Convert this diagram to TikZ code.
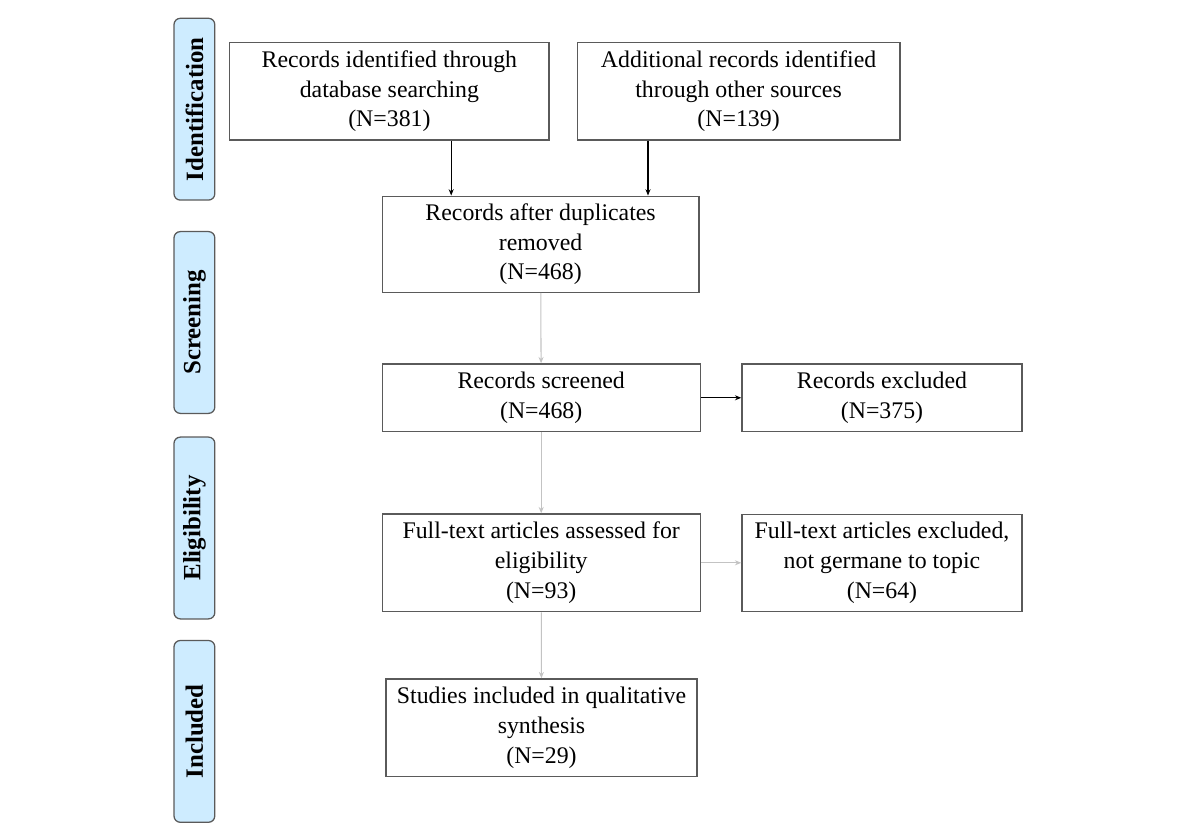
\documentclass[tikz,border=0pt]{standalone}
\usepackage{fontspec}
\setmainfont{Liberation Serif}
\usepackage{xcolor}
\usetikzlibrary{arrows.meta,positioning}
\definecolor{phasefill}{RGB}{206,236,255}
\definecolor{boxline}{RGB}{90,90,90}
\definecolor{lightline}{RGB}{195,195,195}

\begin{document}
\begin{tikzpicture}[
	box/.style={draw=boxline, line width=0.6pt, align=center, inner sep=0pt, font=\fontsize{11.3}{14.2}\selectfont},
	phase/.style={draw=boxline, line width=0.6pt, fill=phasefill, rounded corners=3pt, rotate=90, minimum width=3.03cm, minimum height=0.68cm, inner sep=0pt, font=\fontsize{11.8}{14}\selectfont\bfseries},
	arr/.style={-{Stealth[length=3pt,width=2.4pt]}, line width=0.5pt},
	darkarr/.style={arr, draw=black},
	lightarr/.style={arr, draw=lightline}]
	\useasboundingbox (0,0) rectangle (20,14);
	% phases on the left
	\node[phase] (idn) at (3.24,12.18) {Identification};
	\node[phase] (scr) at (3.24,8.625) {Screening};
	\node[phase] (elg) at (3.24,5.2) {Eligibility};
	\node[phase] (inc) at (3.24,1.81) {Included};
	% boxes
	\node[box, minimum width=5.32cm, minimum height=1.63cm] (db) at (6.49,12.48) {Records identified through\\database searching\\(N=381)};
	\node[box, minimum width=5.38cm, minimum height=1.63cm] (other) at (12.31,12.48) {Additional records identified\\through other sources\\(N=139)};
	\node[box, minimum width=5.28cm, minimum height=1.6cm] (dup) at (9.01,9.93) {Records after duplicates\\removed\\(N=468)};
	\node[box, minimum width=5.3cm, minimum height=1.13cm] (screened) at (9.02,7.37) {Records screened\\(N=468)};
	\node[box, minimum width=4.67cm, minimum height=1.13cm] (excl) at (14.7,7.37) {Records excluded\\(N=375)};
	\node[box, minimum width=5.3cm, minimum height=1.63cm] (fulltext) at (9.02,4.62) {Full-text articles assessed for\\eligibility\\(N=93)};
	\node[box, minimum width=4.67cm, minimum height=1.62cm] (ftexcl) at (14.7,4.62) {Full-text articles excluded,\\not germane to topic\\(N=64)};
	\node[box, minimum width=5.18cm, minimum height=1.63cm] (incl) at (9.025,1.87) {Studies included in qualitative\\synthesis\\(N=29)};
	% arrows
	\draw[darkarr] ([xshift=1.03cm]db.south) -- ([xshift=1.03cm]db.south |- dup.north);
	\draw[darkarr] ([xshift=-1.51cm]other.south) -- ([xshift=-1.51cm]other.south |- dup.north);
	\draw[lightarr] (dup) -- (screened);
	\draw[darkarr] (screened) -- (excl);
	\draw[lightarr] (screened) -- (fulltext);
	\draw[lightarr] (fulltext) -- (ftexcl);
	\draw[lightarr] (fulltext) -- (incl);
\end{tikzpicture}
\end{document}
